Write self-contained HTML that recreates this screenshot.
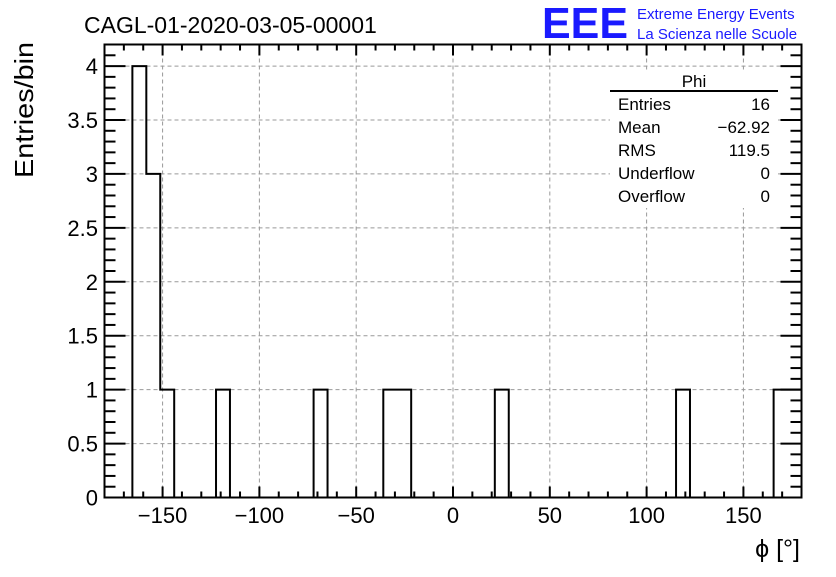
<!DOCTYPE html>
<html><head><meta charset="utf-8"><style>
body{margin:0;background:#fff;}
svg text{font-family:"Liberation Sans",sans-serif;}
</style></head><body>
<svg id="c" width="836" height="572" xmlns="http://www.w3.org/2000/svg">
<rect width="836" height="572" fill="#fff"/>
<text x="84" y="33" font-size="23">CAGL-01-2020-03-05-00001</text>
<text x="542" y="38" font-size="44" fill="#1a1aff" font-weight="bold" textLength="86" lengthAdjust="spacingAndGlyphs">EEE</text>
<text x="637" y="19" font-size="15" fill="#1a1aff">Extreme Energy Events</text>
<text x="637" y="39" font-size="15" fill="#1a1aff">La Scienza nelle Scuole</text>
<g id="grid"></g>
<g id="ticks"></g>
<path id="hist" fill="none" stroke="#000" stroke-width="2"/>
<rect x="104.5" y="44.5" width="697" height="453" fill="none" stroke="#000" stroke-width="2"/>
<g id="labels"></g>
<text x="33" y="110" font-size="26" transform="rotate(-90 33 110)" text-anchor="middle" textLength="136" lengthAdjust="spacingAndGlyphs">Entries/bin</text>
<text x="800" y="557" font-size="25" text-anchor="end">ϕ [°]</text>
<g>
<rect x="610" y="70" width="168" height="138" fill="#fff"/>
<text x="694" y="87" font-size="17" text-anchor="middle">Phi</text>
<line x1="610" y1="91" x2="778" y2="91" stroke="#000" stroke-width="2"/>
<text x="618" y="110" font-size="17">Entries</text><text x="770" y="110" font-size="17" text-anchor="end">16</text>
<text x="618" y="133" font-size="17">Mean</text><text x="770" y="133" font-size="17" text-anchor="end">−62.92</text>
<text x="618" y="156" font-size="17">RMS</text><text x="770" y="156" font-size="17" text-anchor="end">119.5</text>
<text x="618" y="179" font-size="17">Underflow</text><text x="770" y="179" font-size="17" text-anchor="end">0</text>
<text x="618" y="202" font-size="17">Overflow</text><text x="770" y="202" font-size="17" text-anchor="end">0</text>
</g>
</svg>
<script>
const binCounts=[0,0,4,3,1,0,0,0,1,0,0,0,0,0,0,1,0,0,0,0,1,1,0,0,0,0,0,0,1,0,0,0,0,0,0,0,0,0,0,0,0,1,0,0,0,0,0,0,1,1];
const xTicks=[-150,-100,-50,0,50,100,150];
const yTicks=[0,0.5,1,1.5,2,2.5,3,3.5,4];
const xMin=-180,xMax=180,yMin=0,yMax=4.2;
const L=104.5,R=801.5,T=44.5,B=497.5;
const NS="http://www.w3.org/2000/svg";
function sx(v){return L+(v-xMin)/(xMax-xMin)*(R-L);}
function sy(v){return B-(v-yMin)/(yMax-yMin)*(B-T);}
function mk(tag,attrs,parent){const e=document.createElementNS(NS,tag);for(const k in attrs)e.setAttribute(k,attrs[k]);parent.appendChild(e);return e;}
const grid=document.getElementById('grid'),ticks=document.getElementById('ticks'),labels=document.getElementById('labels');
xTicks.forEach(t=>{const l=mk('line',{x1:sx(t),x2:sx(t),y1:T,y2:B,stroke:'#999','stroke-dasharray':'4,3','stroke-width':1},grid);

const tx=mk('text',{x:sx(t),y:523,'font-size':22,'text-anchor':'middle'},labels);tx.textContent=t<0?'−'+(-t):String(t);
});
yTicks.forEach(t=>{if(t>0){const l=mk('line',{x1:L,x2:R,y1:sy(t),y2:sy(t),stroke:'#999','stroke-dasharray':'4,3','stroke-width':1},grid);
}
const tx=mk('text',{x:98,y:sy(t)+8,'font-size':22,'text-anchor':'end'},labels);tx.textContent=String(t);
});
for(let v=-180;v<=180;v+=10){const len=(v%50===0)?11:6;const x=sx(v);
const a=mk('line',{x1:x,x2:x,y1:B,y2:B-len,stroke:'#000','stroke-width':2},ticks);
const b=mk('line',{x1:x,x2:x,y1:T,y2:T+len,stroke:'#000','stroke-width':2},ticks);}
for(let i=0;i<=42;i++){const v=i/10;const len=(i%5===0)?21:11;const y=sy(v);
const a=mk('line',{x1:L,x2:L+len,y1:y,y2:y,stroke:'#000','stroke-width':2},ticks);
const b=mk('line',{x1:R,x2:R-len,y1:y,y2:y,stroke:'#000','stroke-width':2},ticks);}
const w=(xMax-xMin)/binCounts.length;
let d='M'+sx(xMin)+','+sy(0);
binCounts.forEach((c,i)=>{const x0=sx(xMin+i*w),x1=sx(xMin+(i+1)*w);d+=' L'+x0+','+sy(c)+' L'+x1+','+sy(c);});
d+=' L'+sx(xMax)+','+sy(0);
document.getElementById('hist').setAttribute('d',d);
</script>
</body></html>
